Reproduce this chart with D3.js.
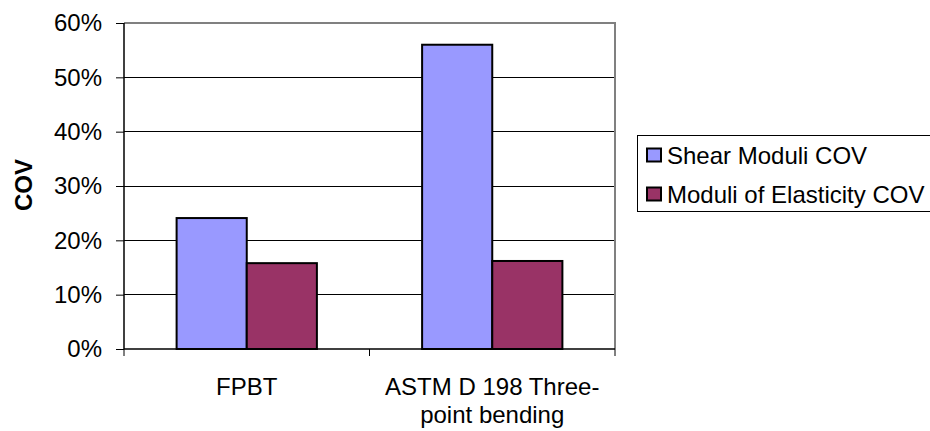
<!DOCTYPE html>
<html><head><meta charset="utf-8">
<script src="https://cdn.jsdelivr.net/npm/d3@7"></script>
<style>body{margin:0;background:#fff;} svg{display:block;font-family:Arial,"Liberation Sans",sans-serif;}</style>
</head><body>
<svg id="c" width="930" height="431"></svg>
<script>
const categories = [["FPBT"], ["ASTM D 198 Three-", "point bending"]];
const seriesNames = ["Shear Moduli COV", "Moduli of Elasticity COV"];
const shearCOV = [0.241, 0.560];
const elasticityCOV = [0.158, 0.162];
const yTicks = [0, 0.1, 0.2, 0.3, 0.4, 0.5, 0.6];
const colors = ["#9999FF", "#993366"];

const svg = d3.select("#c");
const L = 124, R = 615, T = 23, B = 349;
const x = d3.scaleBand().domain(d3.range(categories.length)).range([L, R]);
const y = d3.scaleLinear().domain([0, 0.6]).range([B, T]);
const bw = x.bandwidth() / 3.5;

// gridlines
svg.append("g").selectAll("line").data(yTicks.filter(d => d > 0 && d < 0.6)).join("line")
  .attr("x1", L).attr("x2", R).attr("y1", d => y(d)).attr("y2", d => y(d))
  .attr("stroke", "#000").attr("stroke-width", 1).attr("shape-rendering", "crispEdges");
// plot border top/right
svg.append("path").attr("d", `M${L},${T}H${R}V${B}`).attr("fill", "none")
  .attr("stroke", "#808080").attr("stroke-width", 2);

// bars
const series = [shearCOV, elasticityCOV];
series.forEach((vals, si) => {
  svg.append("g").selectAll("rect").data(vals).join("rect")
    .attr("x", (d, i) => x(i) + x.bandwidth() / 2 - bw + si * bw)
    .attr("y", d => y(d))
    .attr("width", bw)
    .attr("height", d => y(0) - y(d))
    .attr("fill", colors[si])
    .attr("stroke", "#000").attr("stroke-width", 2);
});

// y axis
const yAxis = d3.axisLeft(y).tickValues(yTicks).tickFormat(d3.format(".0%")).tickSize(8).tickPadding(14);
const gy = svg.append("g").attr("transform", `translate(${L},0)`).call(yAxis);
gy.select(".domain").attr("d", `M0,${T}V${B}`).attr("stroke", "#000").attr("stroke-width", 1.5);
gy.selectAll(".tick line").attr("stroke", "#000");
gy.selectAll("text").attr("font-size", 24).attr("fill", "#000").attr("font-family", "Arial, Liberation Sans, sans-serif");

// x axis
const gx = svg.append("g").attr("transform", `translate(0,${B})`);
gx.append("line").attr("x1", L).attr("x2", R).attr("y1", 0).attr("y2", 0).attr("stroke", "#000").attr("stroke-width", 1.5);
gx.selectAll("line.t").data([0, 1, 2]).join("line").attr("class", "t")
  .attr("x1", d => L + d * x.step()).attr("x2", d => L + d * x.step())
  .attr("y1", 0).attr("y2", 7).attr("stroke", "#000").attr("stroke-width", 1);
gx.selectAll("text").data(categories).join("text")
  .attr("text-anchor", "middle").attr("font-size", 24).attr("fill", "#000")
  .each(function(lines, i) {
    d3.select(this).selectAll("tspan").data(lines).join("tspan")
      .attr("x", x(i) + x.bandwidth() / 2)
      .attr("y", (d, j) => 46 + j * 28)
      .text(d => d);
  });

// y title
svg.append("text").attr("transform", "translate(23,185) rotate(-90)")
  .attr("text-anchor", "middle").attr("dominant-baseline", "central")
  .attr("font-size", 24).attr("font-weight", "bold").text("COV");

// legend
const lg = svg.append("g");
lg.append("rect").attr("x", 637.5).attr("y", 135.5).attr("width", 320).attr("height", 76)
  .attr("fill", "#fff").attr("stroke", "#000").attr("stroke-width", 1);
seriesNames.forEach((n, i) => {
  const cy = 155 + i * 39;
  lg.append("rect").attr("x", 647).attr("y", cy - 6.5).attr("width", 14).attr("height", 13)
    .attr("fill", colors[i]).attr("stroke", "#000").attr("stroke-width", 2);
  lg.append("text").attr("x", 667).attr("y", cy).attr("dominant-baseline", "central")
    .attr("font-size", 24).text(n);
});
</script>
</body></html>
